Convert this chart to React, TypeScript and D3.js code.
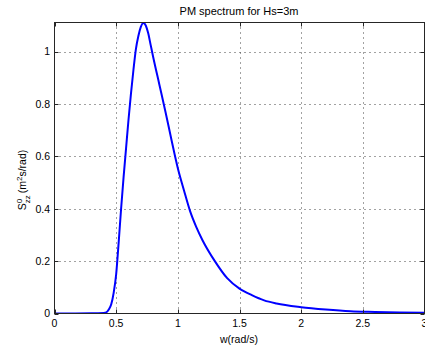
import React, { useEffect, useRef } from 'react';
import * as d3 from 'd3';

// PM spectrum for Hs=3m
const omega = [
  0, 0.3, 0.4, 0.42, 0.44, 0.46, 0.48, 0.5, 0.52, 0.54, 0.56, 0.58, 0.6, 0.62, 0.64,
  0.66, 0.68, 0.7, 0.72, 0.74, 0.76, 0.78, 0.8, 0.85, 0.9, 0.95, 1.0, 1.05, 1.1,
  1.15, 1.2, 1.3, 1.4, 1.5, 1.6, 1.7, 1.8, 2.0, 2.2, 2.4, 2.6, 2.8, 3.0,
];
const spectrum = [
  0, 0.0005, 0.002, 0.004, 0.015, 0.035, 0.08, 0.15, 0.27, 0.4, 0.52, 0.63, 0.74, 0.84, 0.93,
  1.01, 1.06, 1.095, 1.11, 1.1, 1.07, 1.025, 0.98, 0.875, 0.77, 0.66, 0.555, 0.47, 0.39,
  0.33, 0.28, 0.2, 0.135, 0.095, 0.07, 0.05, 0.038, 0.024, 0.015, 0.0085, 0.006, 0.004, 0.003,
];
const xTicks = [0, 0.5, 1, 1.5, 2, 2.5, 3];
const yTicks = [0, 0.2, 0.4, 0.6, 0.8, 1];

const W = 425;
const H = 352;
const font = '"Liberation Sans", Arial, sans-serif';

const App = () => {
  const svgRef = useRef(null);

  useEffect(() => {
    const svg = d3.select(svgRef.current);
    svg.selectAll('*').remove();

    const left = 54.5;
    const right = 424.5;
    const top = 22.5;
    const bottom = 313.5;

    const x = d3.scaleLinear().domain([0, 3]).range([left, right]);
    const y = d3.scaleLinear().domain([0, 1.1115]).range([bottom, top]);

    svg.append('rect').attr('width', W).attr('height', H).attr('fill', '#fff');

    // grid (matlab ':' style)
    const grid = svg.append('g')
      .attr('stroke', '#444')
      .attr('stroke-width', 1)
      .attr('stroke-dasharray', '1 4');
    grid.selectAll('.gx')
      .data(xTicks.filter(d => d > 0 && d < 3))
      .enter()
      .append('line')
      .attr('x1', d => Math.round(x(d)) + 0.5)
      .attr('x2', d => Math.round(x(d)) + 0.5)
      .attr('y1', top)
      .attr('y2', bottom);
    grid.selectAll('.gy')
      .data(yTicks.filter(d => d > 0))
      .enter()
      .append('line')
      .attr('y1', d => Math.round(y(d)) + 0.5)
      .attr('y2', d => Math.round(y(d)) + 0.5)
      .attr('x1', left)
      .attr('x2', right);

    // curve
    svg.append('clipPath')
      .attr('id', 'plot-clip')
      .append('rect')
      .attr('x', left)
      .attr('y', top)
      .attr('width', right - left)
      .attr('height', bottom - top);

    const line = d3.line()
      .x((d, i) => x(omega[i]))
      .y(d => y(d))
      .curve(d3.curveMonotoneX);

    svg.append('path')
      .datum(spectrum)
      .attr('clip-path', 'url(#plot-clip)')
      .attr('fill', 'none')
      .attr('stroke', '#0000ff')
      .attr('stroke-width', 2)
      .attr('d', line);

    // box + ticks
    const axisColor = '#262626';
    svg.append('rect')
      .attr('x', left)
      .attr('y', top)
      .attr('width', right - left)
      .attr('height', bottom - top)
      .attr('fill', 'none')
      .attr('stroke', axisColor);

    const ticks = svg.append('g').attr('stroke', axisColor);
    xTicks.forEach(t => {
      const px = Math.round(x(t)) + 0.5;
      ticks.append('line').attr('x1', px).attr('x2', px).attr('y1', bottom).attr('y2', bottom - 4);
      ticks.append('line').attr('x1', px).attr('x2', px).attr('y1', top).attr('y2', top + 4);
    });
    yTicks.forEach(t => {
      const py = Math.round(y(t)) + 0.5;
      ticks.append('line').attr('y1', py).attr('y2', py).attr('x1', left).attr('x2', left + 4);
      ticks.append('line').attr('y1', py).attr('y2', py).attr('x1', right).attr('x2', right - 4);
    });

    // tick labels
    svg.append('g')
      .selectAll('text')
      .data(xTicks)
      .enter()
      .append('text')
      .attr('x', d => x(d))
      .attr('y', 327)
      .attr('text-anchor', 'middle')
      .attr('font-family', font)
      .attr('font-size', 10.5)
      .attr('fill', '#000')
      .text(d => String(d));

    svg.append('g')
      .selectAll('text')
      .data(yTicks)
      .enter()
      .append('text')
      .attr('x', 50)
      .attr('y', d => y(d) + 3.8)
      .attr('text-anchor', 'end')
      .attr('font-family', font)
      .attr('font-size', 10.5)
      .attr('fill', '#000')
      .text(d => String(d));

    // title + axis labels
    svg.append('text')
      .attr('x', 239)
      .attr('y', 14.5)
      .attr('text-anchor', 'middle')
      .attr('font-family', font)
      .attr('font-size', 11)
      .text('PM spectrum for Hs=3m');

    svg.append('text')
      .attr('x', 239)
      .attr('y', 343)
      .attr('text-anchor', 'middle')
      .attr('font-family', font)
      .attr('font-size', 10.5)
      .text('w(rad/s)');

    const ylab = svg.append('text')
      .attr('transform', 'translate(26,180) rotate(-90)')
      .attr('text-anchor', 'middle')
      .attr('font-family', font)
      .attr('font-size', 10.5);
    ylab.append('tspan').text('S');
    ylab.append('tspan').attr('font-size', 8).attr('dy', -4.5).text('0');
    ylab.append('tspan').attr('font-size', 8).attr('dx', -4.5).attr('dy', 8).text('zz');
    ylab.append('tspan').attr('dx', 2).attr('dy', -3.5).text('(m');
    ylab.append('tspan').attr('font-size', 8).attr('dy', -4).text('2');
    ylab.append('tspan').attr('dy', 4).text('s/rad)');
  }, []);

  return (
    <svg
      ref={svgRef}
      width={W}
      height={H}
      style={{ position: 'absolute', left: 0, top: 0, display: 'block' }}
    ></svg>
  );
};

export default App;
